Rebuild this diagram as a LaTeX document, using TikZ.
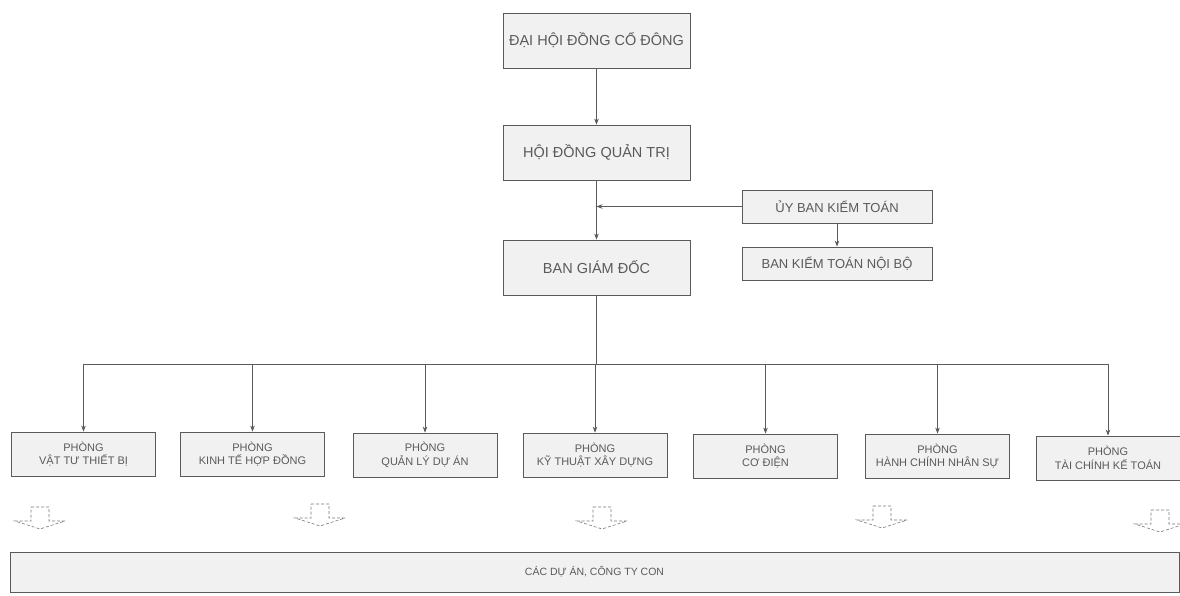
\documentclass[tikz,border=0pt]{standalone}
\usepackage{fontspec}
\setmainfont{Liberation Sans}
\usetikzlibrary{arrows.meta}
\definecolor{ink}{HTML}{5A5A5A}
\definecolor{boxfill}{HTML}{F1F1F1}
\tikzset{
  orgbox/.style={draw=ink, line width=0.8pt, fill=boxfill, text=ink, align=center, inner sep=0pt},
  bigbox/.style={orgbox, minimum width=187pt, minimum height=55pt, font=\fontsize{14.5}{17}\selectfont},
  sidebox/.style={orgbox, minimum width=190pt, minimum height=33pt, font=\fontsize{13}{15}\selectfont},
  deptbox/.style={orgbox, minimum width=144pt, minimum height=44pt, font=\fontsize{11}{13.5}\selectfont},
  conn/.style={draw=ink, line width=0.7pt},
  arr/.style={conn, -{Stealth[length=6pt,width=4.5pt]}},
  hollow/.style={draw=ink!80, line width=0.6pt, densely dashed, fill=white}
}
\begin{document}
\begin{tikzpicture}[x=1pt,y=-1pt]
\useasboundingbox (0,0) rectangle (1180,596);
\fill[white] (0,0) rectangle (1180,596);

% top chain
\node[bigbox] (dhcd) at (596.5,40.5) {ĐẠI HỘI ĐỒNG CỔ ĐÔNG};
\node[bigbox] (hdqt) at (596.5,152.5) {HỘI ĐỒNG QUẢN TRỊ};
\node[bigbox] (bgd)  at (596.5,267.5) {BAN GIÁM ĐỐC};
\node[sidebox] (ubkt) at (837,206.5) {ỦY BAN KIỂM TOÁN};
\node[sidebox] (bktnb) at (837,263.5) {BAN KIỂM TOÁN NỘI BỘ};

\draw[arr] (dhcd) -- (hdqt);
\draw[arr] (hdqt) -- (bgd);
\coordinate (join) at (596.5,206.5);
\draw[arr] (ubkt.west) -- (join);
\draw[arr] (ubkt) -- (bktnb);

% departments
\node[deptbox] (d1) at (83.5,454)  {PHÒNG\\VẬT TƯ THIẾT BỊ};
\node[deptbox] (d2) at (252.5,454) {PHÒNG\\KINH TẾ HỢP ĐỒNG};
\node[deptbox] (d3) at (425,455)   {PHÒNG\\QUẢN LÝ DỰ ÁN};
\node[deptbox] (d4) at (595,455)   {PHÒNG\\KỸ THUẬT XÂY DỰNG};
\node[deptbox] (d5) at (765.5,456) {PHÒNG\\CƠ ĐIỆN};
\node[deptbox] (d6) at (937.5,456) {PHÒNG\\HÀNH CHÍNH NHÂN SỰ};
\node[deptbox] (d7) at (1108,458)  {PHÒNG\\TÀI CHÍNH KẾ TOÁN};

\coordinate (bus) at (596.5,364);
\draw[conn] (bgd.south) -- (bus);
\foreach \d in {d1,d2,d3,d4,d5,d6,d7}{
  \draw[arr] (bus -| \d.north) -- (\d.north);
}
\draw[conn] (bus -| d1.north) -- (bus -| d7.north);

% hollow arrows
\foreach \cx/\t in {40/507, 320/504, 602/507, 882/506, 1160/510}{
  \draw[hollow] (\cx-9,\t) -- (\cx+9,\t) -- (\cx+9,\t+14) -- (\cx+25,\t+14)
    -- (\cx,\t+22) -- (\cx-25,\t+14) -- (\cx-9,\t+14) -- cycle;
}

% bottom band
\node[orgbox, minimum width=1169pt, minimum height=40pt, font=\fontsize{10.5}{12}\selectfont] (cac) at (594.5,572) {CÁC DỰ ÁN, CÔNG TY CON};
\end{tikzpicture}
\end{document}
